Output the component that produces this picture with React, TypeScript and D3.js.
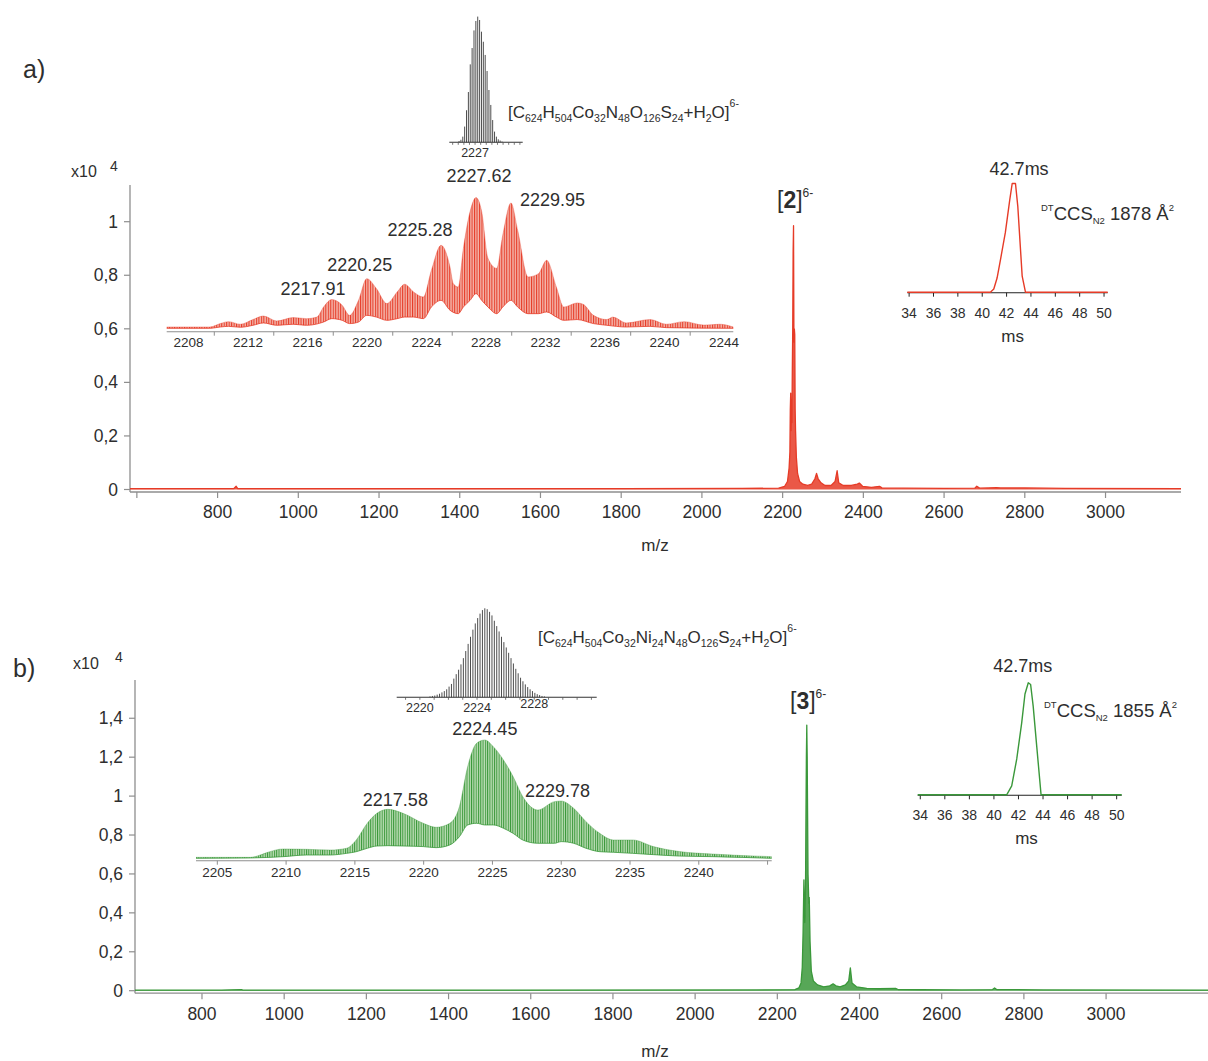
import React from "react";
import * as d3 from "d3";

const FONT = "'Liberation Sans', Arial, Helvetica, sans-serif";
const TEXT = "#2e2e2e";
const AXIS = "#8e8e8e";
const RED = "#e63b27";
const RED_LIGHT = "#f4b4a9";
const GREEN = "#3a983a";
const GREEN_LIGHT = "#b9dcb3";

type P = [number, number];

// ---------- full-range spectra: [m/z, intensity (x10^4)] ----------
const spectrumA: P[] = [
  [583, 0.003], [700, 0.003], [840, 0.003], [846, 0.012], [850, 0.003], [1200, 0.003], [1800, 0.003],
  [2100, 0.004], [2190, 0.005], [2205, 0.012], [2212, 0.03], [2216, 0.08], [2218, 0.14], [2219, 0.3],
  [2220, 0.36], [2221, 0.22], [2222, 0.28], [2223, 0.25], [2224, 0.45], [2225, 0.6], [2226, 0.89],
  [2227, 0.985], [2228, 0.55], [2229, 0.6], [2230, 0.58], [2231, 0.3], [2232, 0.22], [2234, 0.12],
  [2237, 0.06], [2242, 0.03], [2250, 0.02], [2262, 0.015], [2272, 0.02], [2280, 0.04], [2284, 0.06],
  [2288, 0.04], [2295, 0.025], [2305, 0.015], [2320, 0.015], [2330, 0.03], [2335, 0.07], [2339, 0.025],
  [2350, 0.015], [2370, 0.015], [2385, 0.02], [2390, 0.024], [2398, 0.012], [2420, 0.008], [2440, 0.012],
  [2446, 0.006], [2500, 0.005], [2600, 0.004], [2676, 0.005], [2681, 0.012], [2688, 0.005], [2730, 0.007],
  [2740, 0.006], [2800, 0.006], [2900, 0.004], [3187, 0.003],
];
const spectrumB: P[] = [
  [586, 0.003], [800, 0.003], [848, 0.006], [852, 0.003], [1000, 0.003], [1500, 0.003], [2100, 0.004],
  [2195, 0.006], [2205, 0.015], [2210, 0.04], [2213, 0.12], [2215, 0.3], [2217, 0.57], [2218, 0.45],
  [2219, 0.35], [2220, 0.4], [2221, 0.55], [2222, 0.9], [2223, 1.2], [2224, 1.365], [2225, 1.2],
  [2226, 0.9], [2227, 0.6], [2229, 0.45], [2230, 0.48], [2232, 0.25], [2235, 0.1], [2240, 0.05],
  [2250, 0.03], [2265, 0.02], [2280, 0.025], [2288, 0.035], [2295, 0.025], [2305, 0.02], [2318, 0.03],
  [2326, 0.05], [2330, 0.117], [2334, 0.04], [2345, 0.02], [2370, 0.012], [2400, 0.01], [2440, 0.012],
  [2446, 0.006], [2500, 0.005], [2600, 0.004], [2676, 0.006], [2681, 0.014], [2686, 0.006], [2800, 0.004],
  [3203, 0.003],
];
const mzTicks = [800, 1000, 1200, 1400, 1600, 1800, 2000, 2200, 2400, 2600, 2800, 3000];
const yTicksA = [0, 0.2, 0.4, 0.6, 0.8, 1];
const yTicksB = [0, 0.2, 0.4, 0.6, 0.8, 1, 1.2, 1.4];

// ---------- expanded isotope cluster: envelope of isotope tips / valleys, % of base peak ----------
const zoomUpperA: P[] = [
  [2206.8, 1.0], [2209.7, 1.0], [2210.4, 3.6], [2210.96, 5.1], [2211.75, 3.1], [2212.6, 6.7], [2213.3, 9.4],
  [2214.2, 5.6], [2215.3, 8.2], [2216.2, 7.4], [2216.9, 8.6], [2217.35, 16.3], [2217.9, 22.0], [2218.6, 17.6],
  [2219.1, 9.9], [2219.7, 21.4], [2220.25, 38.0], [2220.9, 30.4], [2221.6, 18.9], [2222.3, 27.8], [2222.8, 33.7],
  [2223.4, 27.8], [2224.06, 23.9], [2224.6, 44.4], [2225.25, 63.5], [2225.85, 46.9], [2226.07, 34.2],
  [2226.4, 31.6], [2226.75, 61.2], [2227.2, 89.3], [2227.6, 100], [2227.98, 89.3], [2228.4, 53.6],
  [2228.99, 45.9], [2229.4, 71.4], [2229.95, 95.9], [2230.4, 75.0], [2231.1, 39.3], [2231.8, 41.8],
  [2232.35, 52.0], [2233.0, 31.6], [2233.5, 16.3], [2234.4, 19.4], [2234.8, 18.4], [2235.5, 9.9],
  [2236.4, 6.7], [2236.8, 8.6], [2237.7, 4.1], [2239.3, 6.7], [2240.4, 3.1], [2241.6, 5.1], [2242.9, 2.5],
  [2244.0, 3.1], [2244.9, 1.0],
];
const zoomLowerA: P[] = [
  [2206.8, 0], [2209.7, 0], [2210.4, 1.0], [2210.96, 1.5], [2211.75, 0.8], [2212.6, 2.3], [2213.3, 4.1],
  [2214.2, 2.3], [2215.3, 3.1], [2216.2, 2.3], [2217.35, 4.8], [2217.9, 7.4], [2218.6, 6.1], [2219.1, 3.6],
  [2219.7, 4.8], [2220.25, 9.9], [2220.9, 8.6], [2221.6, 6.1], [2222.3, 7.4], [2222.8, 8.6], [2223.4, 8.6],
  [2224.06, 7.4], [2224.6, 16.3], [2225.25, 21.4], [2225.85, 13.8], [2226.4, 11.2], [2226.75, 16.3],
  [2227.2, 21.4], [2227.6, 26.5], [2227.98, 21.4], [2228.4, 16.3], [2228.99, 11.2], [2229.4, 16.3],
  [2229.95, 21.4], [2230.4, 16.3], [2231.1, 11.2], [2231.8, 11.2], [2232.35, 12.5], [2233.0, 8.6],
  [2233.5, 6.1], [2234.4, 6.7], [2235.5, 3.6], [2236.4, 2.3], [2237.7, 1.0], [2239.3, 1.5], [2240.4, 0.5],
  [2244.9, 0],
];
const zoomUpperB: P[] = [
  [2203.45, 0.8], [2207.4, 0.8], [2207.9, 1.9], [2208.6, 4.8], [2209.8, 7.9], [2211.5, 7.6], [2213.2, 7.0],
  [2214.4, 8.5], [2215.1, 15.5], [2215.9, 29.6], [2216.6, 38.0], [2217.4, 41.4], [2218.5, 38.0],
  [2219.97, 29.6], [2220.9, 26.2], [2221.9, 29.6], [2222.6, 43.7], [2223.2, 77.5], [2223.85, 97.2],
  [2224.45, 100], [2225.06, 94.4], [2225.8, 83.1], [2226.5, 69.1], [2227.2, 52.2], [2228.3, 40.8],
  [2229.5, 47.9], [2230.0, 48.4], [2230.9, 42.3], [2231.8, 31.0], [2232.8, 21.1], [2233.8, 15.5],
  [2235.2, 15.5], [2236.7, 9.9], [2238.6, 5.7], [2241.0, 3.6], [2245.3, 1.4],
];
const zoomLowerB: P[] = [
  [2203.45, 0], [2207.4, 0.3], [2209.8, 1.4], [2211.5, 2.8], [2213.2, 2.8], [2214.4, 4.2], [2215.1, 5.6],
  [2215.9, 8.5], [2216.6, 10.4], [2217.4, 10.7], [2218.5, 10.4], [2219.97, 9.9], [2220.9, 9.0],
  [2221.9, 11.3], [2222.6, 18.3], [2223.2, 28.2], [2223.85, 29.6], [2224.45, 28.2], [2225.06, 28.2],
  [2225.8, 25.4], [2226.5, 21.1], [2227.2, 15.5], [2228.3, 12.7], [2229.5, 12.7], [2230.0, 14.1],
  [2230.9, 12.7], [2231.8, 8.5], [2232.8, 5.6], [2233.8, 5.1], [2235.2, 4.2], [2236.7, 3.1], [2238.6, 1.9],
  [2241.0, 1.4], [2245.3, 0],
];
const zoomTicksA = [2210, 2214, 2218, 2222, 2226, 2230, 2234, 2238, 2242];
const zoomLabelsA = [2208, 2212, 2216, 2220, 2224, 2228, 2232, 2236, 2240, 2244];
const zoomTicksB = [2205, 2210, 2215, 2220, 2225, 2230, 2235, 2240, 2245];
const zoomLabelsB = [2205, 2210, 2215, 2220, 2225, 2230, 2235, 2240];
const peakLabelsA = [2217.91, 2220.25, 2225.28, 2227.62, 2229.95];
const peakLabelsB = [2217.58, 2224.45, 2229.78];

// ---------- simulated isotope patterns: relative abundance per 1/6 m/z step ----------
const isoStartA = 2225.57;
const isoA = [0.01, 0.02, 0.045, 0.125, 0.255, 0.4, 0.62, 0.75, 0.89, 0.965, 1.0, 0.973, 0.88, 0.8, 0.695,
  0.567, 0.416, 0.297, 0.177, 0.085, 0.045, 0.024, 0.014, 0.006];
const isoStartB = 2220.71;
const isoB = [0.01, 0.015, 0.02, 0.03, 0.04, 0.055, 0.07, 0.09, 0.12, 0.15, 0.21, 0.26, 0.31, 0.37, 0.44,
  0.52, 0.6, 0.68, 0.76, 0.83, 0.89, 0.94, 0.98, 1.0, 0.99, 0.96, 0.92, 0.86, 0.8, 0.74, 0.68, 0.62, 0.56,
  0.5, 0.44, 0.38, 0.32, 0.27, 0.22, 0.18, 0.145, 0.115, 0.09, 0.07, 0.05, 0.035, 0.025, 0.015, 0.01];
const isoLabelsA = [2227];
const isoLabelsB = [2220, 2224, 2228];

// ---------- arrival-time distributions: [drift time (ms), relative intensity] ----------
const driftA: P[] = [
  [33.85, 0], [40.67, 0], [40.95, 0.03], [41.22, 0.13], [41.5, 0.3], [41.9, 0.55], [42.26, 0.85],
  [42.46, 1.0], [42.73, 1.0], [42.92, 0.79], [43.28, 0.147], [43.55, 0], [50.3, 0],
];
const driftB: P[] = [
  [33.79, 0], [41.04, 0], [41.45, 0.08], [41.86, 0.32], [42.26, 0.64], [42.53, 0.9], [42.8, 1.0],
  [42.99, 0.985], [43.2, 0.79], [43.49, 0.43], [43.84, 0], [50.41, 0],
];
const driftTicks = [34, 36, 38, 40, 42, 44, 46, 48, 50];

type Seg = { t: string; k?: "sub" | "sup"; b?: boolean };
const formulaA: Seg[] = [
  { t: "[C" }, { t: "624", k: "sub" }, { t: "H" }, { t: "504", k: "sub" }, { t: "Co" }, { t: "32", k: "sub" },
  { t: "N" }, { t: "48", k: "sub" }, { t: "O" }, { t: "126", k: "sub" }, { t: "S" }, { t: "24", k: "sub" },
  { t: "+H" }, { t: "2", k: "sub" }, { t: "O]" }, { t: "6-", k: "sup" },
];
const formulaB: Seg[] = [
  { t: "[C" }, { t: "624", k: "sub" }, { t: "H" }, { t: "504", k: "sub" }, { t: "Co" }, { t: "32", k: "sub" },
  { t: "Ni" }, { t: "24", k: "sub" }, { t: "N" }, { t: "48", k: "sub" }, { t: "O" }, { t: "126", k: "sub" },
  { t: "S" }, { t: "24", k: "sub" }, { t: "+H" }, { t: "2", k: "sub" }, { t: "O]" }, { t: "6-", k: "sup" },
];
const ccsA: Seg[] = [{ t: "DT", k: "sup" }, { t: "CCS" }, { t: "N2", k: "sub" }, { t: " 1878 Å" }, { t: "2", k: "sup" }];
const ccsB: Seg[] = [{ t: "DT", k: "sup" }, { t: "CCS" }, { t: "N2", k: "sub" }, { t: " 1855 Å" }, { t: "2", k: "sup" }];
const ionA: Seg[] = [{ t: "[" }, { t: "2", b: true }, { t: "]" }, { t: "6-", k: "sup" }];
const ionB: Seg[] = [{ t: "[" }, { t: "3", b: true }, { t: "]" }, { t: "6-", k: "sup" }];

const comma = (v: number) => String(+v.toFixed(1)).replace(".", ",");

function Rich(props: {
  x: number; y: number; size: number; small: number; segs: Seg[]; sub: number; sup: number;
  anchor?: "start" | "middle" | "end";
}) {
  const { x, y, size, small, segs, sub, sup, anchor = "start" } = props;
  let cur = 0;
  return (
    <text x={x} y={y} fontSize={size} textAnchor={anchor} fill={TEXT}>
      {segs.map((s, i) => {
        const target = s.k === "sub" ? sub : s.k === "sup" ? -sup : 0;
        const dy = target - cur;
        cur = target;
        return (
          <tspan key={i} dy={dy} fontSize={s.k ? small : size} fontWeight={s.b ? "bold" : "normal"}>
            {s.t}
          </tspan>
        );
      })}
    </text>
  );
}

type MainCfg = {
  id: string; data: P[]; color: string; mzDomain: [number, number]; xLeft: number; xRight: number;
  traceShift: number; y0: number; pxPerUnit: number; yTop: number; yTicks: number[]; extraTick?: number;
  tickLabelY: number; mzLabelY: number;
};

function MainSpectrum({ c }: { c: MainCfg }) {
  const x = d3.scaleLinear().domain(c.mzDomain).range([c.xLeft, c.xRight]);
  // the trace sits slightly offset from its printed axis in panel b
  const xt = d3.scaleLinear().domain(c.mzDomain).range([c.xLeft + c.traceShift, c.xRight + c.traceShift]);
  const y = d3.scaleLinear().domain([0, 1]).range([c.y0, c.y0 - c.pxPerUnit]);
  const line = d3.line<P>().x((d) => xt(d[0])).y((d) => y(d[1]));
  const area = d3.area<P>().x((d) => xt(d[0])).y0(y(0)).y1((d) => y(d[1]));
  const axisY = c.y0 + 2.5;
  const ticks = c.extraTick !== undefined ? [c.extraTick, ...mzTicks] : mzTicks;
  return (
    <g>
      <defs>
        <clipPath id={c.id}>
          <rect x={c.xLeft} y={c.yTop - 10} width={c.xRight - c.xLeft} height={axisY - c.yTop + 10} />
        </clipPath>
      </defs>
      <line x1={c.xLeft} x2={c.xLeft} y1={c.yTop} y2={axisY} stroke={AXIS} strokeWidth={1.3} />
      <line x1={c.xLeft} x2={c.xRight} y1={axisY} y2={axisY} stroke={AXIS} strokeWidth={1.3} />
      {c.yTicks.map((t) => (
        <g key={t}>
          <line x1={c.xLeft - 6} x2={c.xLeft} y1={y(t)} y2={y(t)} stroke={AXIS} strokeWidth={1.2} />
          <text x={c.xLeft - 12} y={y(t) + 6} fontSize={17.5} textAnchor="end" fill={TEXT}>{comma(t)}</text>
        </g>
      ))}
      {ticks.map((t) => (
        <line key={t} x1={x(t)} x2={x(t)} y1={axisY} y2={axisY + 6} stroke={AXIS} strokeWidth={1.2} />
      ))}
      {mzTicks.map((t) => (
        <text key={t} x={x(t)} y={c.tickLabelY} fontSize={17.5} textAnchor="middle" fill={TEXT}>{t}</text>
      ))}
      <text x={655} y={c.mzLabelY} fontSize={17} textAnchor="middle" fill={TEXT}>m/z</text>
      <g clipPath={`url(#${c.id})`}>
        <path d={area(c.data)!} fill={c.color} opacity={0.85} />
        <path d={line(c.data)!} fill="none" stroke={c.color} strokeWidth={1.3} strokeLinejoin="round" />
      </g>
    </g>
  );
}

type ZoomCfg = {
  id: string; upper: P[]; lower: P[]; domain: [number, number]; range: [number, number];
  base: number; full: number; axisY: number; ticks: number[]; labels: number[]; labelY: number; labelDx: number;
  peaks: number[]; peakOffsets: [number, number][]; color: string; light: string;
};

function ZoomInset({ c }: { c: ZoomCfg }) {
  const x = d3.scaleLinear().domain(c.domain).range(c.range);
  const y = d3.scaleLinear().domain([0, 100]).range([c.base, c.base - c.full]);
  const curve = d3.line<P>().x((d) => x(d[0])).y((d) => y(d[1])).curve(d3.curveMonotoneX);
  const dUp = curve(c.upper)!;
  const dLo = curve([...c.lower].reverse())!;
  const band = dUp + "L" + dLo.slice(1) + "Z";
  const step = Math.abs(x(c.domain[0] + 1 / 6) - x(c.domain[0]));
  const tipOf = (v: number) => d3.least(c.upper, (d) => Math.abs(d[0] - v))![1];
  return (
    <g>
      <defs>
        <pattern id={c.id} patternUnits="userSpaceOnUse" width={step} height={600} x={x(c.domain[0])} y={0}>
          <rect width={step} height={600} fill={c.light} />
          <rect width={step * 0.42} height={600} fill={c.color} />
        </pattern>
      </defs>
      <line x1={c.range[0]} x2={c.range[1]} y1={c.axisY} y2={c.axisY} stroke={AXIS} strokeWidth={1.1} />
      {c.ticks.map((t) => (
        <line key={t} x1={x(t)} x2={x(t)} y1={c.axisY} y2={c.axisY + 4} stroke={AXIS} strokeWidth={1} />
      ))}
      {c.labels.map((t) => (
        <text key={t} x={x(t) + c.labelDx} y={c.labelY} fontSize={13.5} textAnchor="middle" fill={TEXT}>{t}</text>
      ))}
      <path d={band} fill={`url(#${c.id})`} stroke="none" />
      <path d={dUp} fill="none" stroke={c.color} strokeWidth={0.6} opacity={0.6} />
      <path d={curve(c.lower)!} fill="none" stroke={c.color} strokeWidth={0.8} />
      {c.peaks.map((v, i) => (
        <text key={v} x={x(v) + c.peakOffsets[i][0]} y={y(tipOf(v)) + c.peakOffsets[i][1]} fontSize={18}
          textAnchor="middle" fill={TEXT}>{v.toFixed(2)}</text>
      ))}
    </g>
  );
}

type IsoCfg = {
  start: number; heights: number[]; domain: [number, number]; range: [number, number];
  base: number; full: number; labels: number[]; labelYs: number[]; minor: number;
};

function IsotopeInset({ c }: { c: IsoCfg }) {
  const x = d3.scaleLinear().domain(c.domain).range(c.range);
  const y = d3.scaleLinear().domain([0, 1]).range([c.base, c.base - c.full]);
  const minor = d3.range(Math.ceil(c.domain[0] / c.minor) * c.minor, c.domain[1], c.minor);
  return (
    <g>
      {c.heights.map((h, i) => {
        const xx = x(c.start + i / 6);
        return <line key={i} x1={xx} x2={xx} y1={y(0)} y2={y(h)} stroke="#3a3a3a" strokeWidth={0.9} />;
      })}
      <line x1={c.range[0]} x2={c.range[1]} y1={c.base} y2={c.base} stroke="#333" strokeWidth={1.1} />
      {minor.map((t) => (
        <line key={t} x1={x(t)} x2={x(t)} y1={c.base} y2={c.base + 2.5} stroke="#555" strokeWidth={0.8} />
      ))}
      {c.labels.map((t, i) => (
        <text key={t} x={x(t)} y={c.labelYs[i]} fontSize={12.5} textAnchor="middle" fill={TEXT}>{t}</text>
      ))}
    </g>
  );
}

type DriftCfg = {
  data: P[]; color: string; domain: [number, number]; range: [number, number]; base: number; full: number;
  labelY: number; msY: number; msDx: number; topLabelY: number; topDx: number;
};

function DriftInset({ c }: { c: DriftCfg }) {
  const x = d3.scaleLinear().domain(c.domain).range(c.range);
  const y = d3.scaleLinear().domain([0, 1]).range([c.base - 0.5, c.base - 0.5 - c.full]);
  const line = d3.line<P>().x((d) => x(d[0])).y((d) => y(d[1]));
  return (
    <g>
      <line x1={c.range[0]} x2={c.range[1]} y1={c.base} y2={c.base} stroke="#222" strokeWidth={1.1} />
      {driftTicks.map((t) => (
        <g key={t}>
          <line x1={x(t)} x2={x(t)} y1={c.base} y2={c.base + 4} stroke="#222" strokeWidth={1} />
          <text x={x(t)} y={c.labelY} fontSize={14} textAnchor="middle" fill={TEXT}>{t}</text>
        </g>
      ))}
      <path d={line(c.data)!} fill="none" stroke={c.color} strokeWidth={1.4} strokeLinejoin="round" />
      <text x={x(42.7) + c.topDx} y={c.topLabelY} fontSize={18} textAnchor="middle" fill={TEXT}>42.7ms</text>
      <text x={x(42) + c.msDx} y={c.msY} fontSize={17} textAnchor="middle" fill={TEXT}>ms</text>
    </g>
  );
}

export default function App() {
  const W = 1208;
  const H = 1061;
  return (
    <div style={{ position: "absolute", left: 0, top: 0, width: W, height: H, background: "#fff" }}>
      <svg width={W} height={H} viewBox={`0 0 ${W} ${H}`} style={{ display: "block" }} fontFamily={FONT}>
        {/* ---------- panel a ---------- */}
        <text x={23} y={78} fontSize={25} fill={TEXT}>a)</text>
        <text x={71} y={177} fontSize={16} fill={TEXT}>x10</text>
        <text x={110} y={171} fontSize={14} fill={TEXT}>4</text>
        <MainSpectrum c={{
          id: "clipA", data: spectrumA, color: RED, mzDomain: [583, 3187], xLeft: 130, xRight: 1181, traceShift: 0,
          y0: 489.5, pxPerUnit: 267.8, yTop: 185, yTicks: yTicksA, extraTick: 600, tickLabelY: 518, mzLabelY: 551,
        }} />
        <ZoomInset c={{
          id: "isoHatchA", upper: zoomUpperA, lower: zoomLowerA, domain: [2206.8, 2244.9], range: [166.7, 733.3],
          base: 328.3, full: 130.7, axisY: 331.7, ticks: zoomTicksA, labels: zoomLabelsA, labelY: 346.5, labelDx: 4,
          peaks: peakLabelsA, peakOffsets: [[-19, -4.6], [-7, -8], [-21.5, -9.3], [2.7, -16], [41.5, 2.7]],
          color: RED, light: RED_LIGHT,
        }} />
        <IsotopeInset c={{
          start: isoStartA, heights: isoA, domain: [2224.7, 2231.25], range: [449.3, 522.7], base: 142.3,
          full: 125.7, labels: isoLabelsA, labelYs: [157], minor: 0.5,
        }} />
        <Rich x={508} y={118} size={17} small={10.5} segs={formulaA} sub={3.5} sup={11} />
        <Rich x={777} y={208} size={23} small={12} segs={ionA} sub={4} sup={11} />
        <DriftInset c={{
          data: driftA, color: RED, domain: [33.85, 50.3], range: [907.3, 1107.7], base: 292.7, full: 108.7,
          labelY: 318, msY: 342, msDx: 6, topLabelY: 175, topDx: 4,
        }} />
        <Rich x={1041} y={220} size={18.5} small={9.5} segs={ccsA} sub={4} sup={9} />

        {/* ---------- panel b ---------- */}
        <text x={13} y={677} fontSize={25} fill={TEXT}>b)</text>
        <text x={73} y={669} fontSize={16} fill={TEXT}>x10</text>
        <text x={115} y={662} fontSize={14} fill={TEXT}>4</text>
        <MainSpectrum c={{
          id: "clipB", data: spectrumB, color: GREEN, mzDomain: [637, 3248], xLeft: 135, xRight: 1208, traceShift: 19.6,
          y0: 990.7, pxPerUnit: 194.6, yTop: 680, yTicks: yTicksB, tickLabelY: 1020, mzLabelY: 1057,
        }} />
        <ZoomInset c={{
          id: "isoHatchB", upper: zoomUpperB, lower: zoomLowerB, domain: [2203.45, 2245.3], range: [196, 771.7],
          base: 858.3, full: 118.3, axisY: 860.7, ticks: zoomTicksB, labels: zoomLabelsB, labelY: 876.5, labelDx: 0,
          peaks: peakLabelsB, peakOffsets: [[5, -3.3], [0, -5], [-0.6, -4.3]],
          color: GREEN, light: GREEN_LIGHT,
        }} />
        <IsotopeInset c={{
          start: isoStartB, heights: isoB, domain: [2218.38, 2232.37], range: [396.7, 596.7], base: 697.3,
          full: 89, labels: isoLabelsB, labelYs: [712, 712, 708], minor: 1,
        }} />
        <Rich x={538} y={643} size={17} small={10.5} segs={formulaB} sub={3.5} sup={11} />
        <Rich x={790} y={709} size={23} small={12} segs={ionB} sub={4} sup={11} />
        <DriftInset c={{
          data: driftB, color: GREEN, domain: [33.79, 50.41], range: [917.7, 1121.7], base: 795.3, full: 112,
          labelY: 820, msY: 844, msDx: 8, topLabelY: 672, topDx: -4.3,
        }} />
        <Rich x={1044} y={717} size={18.5} small={9.5} segs={ccsB} sub={4} sup={9} />
      </svg>
    </div>
  );
}
